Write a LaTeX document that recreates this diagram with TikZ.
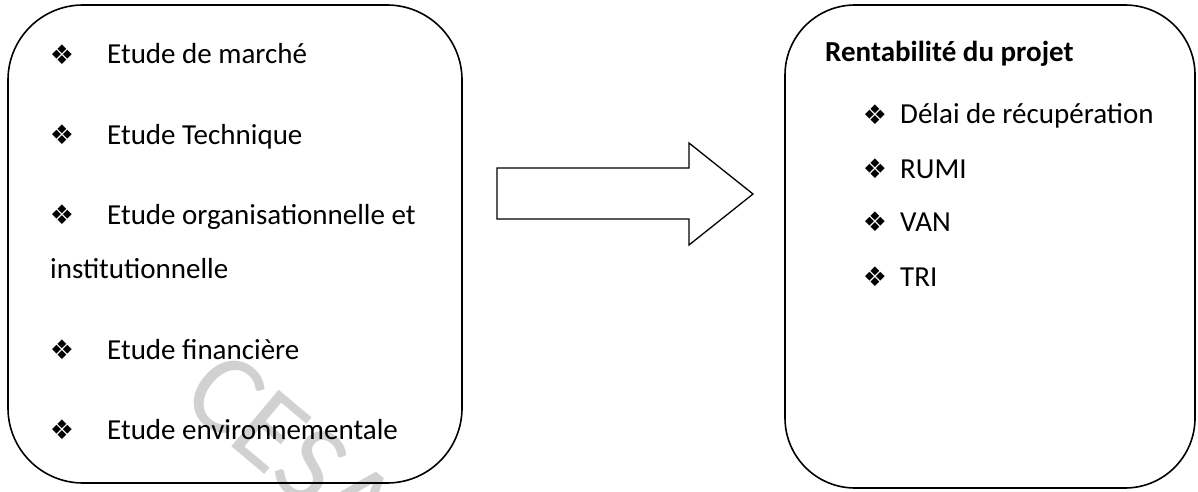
\documentclass[tikz,border=0pt]{standalone}
\usepackage{fontspec}
\setmainfont{Carlito}
\newfontfamily\symfont{DejaVu Sans}
\begin{document}
\begin{tikzpicture}[x=1pt,y=-1pt,
  boxstyle/.style={draw=black,line width=1.6pt},
  item/.style={anchor=base west,inner sep=0pt,font=\fontsize{29}{34}\selectfont},
  bul/.style={anchor=center,inner sep=0pt,font=\symfont\fontsize{27}{30}\selectfont},
  arrowshape/.style={draw=black,line width=1.3pt,fill=white,line join=miter}]
\useasboundingbox (0,0) rectangle (1198,492);
\clip (0,0) rectangle (1198,492);
% watermark
\node[anchor=base west,inner sep=0pt,rotate=-40,text=black!18,font=\fontsize{115}{120}\selectfont] (wm) at (178,402) {CESAG};
% left box
\draw[boxstyle,rounded corners=75pt] (8,5) rectangle (462,483);
\node[bul] (b1) at (62,55) {❖};
\node[item] (t1) at (107,64) {Etude de marché};
\node[bul] (b2) at (62,135) {❖};
\node[item] (t2) at (107,144) {Etude Technique};
\node[bul] (b3) at (62,215) {❖};
\node[item] (t3) at (107,224) {Etude organisationnelle et};
\node[item] (t3b) at (50,278) {institutionnelle};
\node[bul] (b4) at (62,350) {❖};
\node[item] (t4) at (107,359) {Etude financière};
\node[bul] (b5) at (62,430) {❖};
\node[item] (t5) at (107,439) {Etude environnementale};
% arrow
\coordinate (a1) at (497,168);
\draw[arrowshape] (a1) -- (689,168) -- (689,143) -- (753,194) -- (689,245) -- (689,219) -- (497,219) -- cycle;
% right box
\draw[boxstyle,rounded corners=70pt] (785,5) rectangle (1195,488);
\node[item,font=\bfseries\fontsize{29}{34}\selectfont] (h) at (825,62) {Rentabilité du projet};
\node[bul] (r1b) at (875,115) {❖};
\node[item] (r1) at (900,124) {Délai de récupération};
\node[bul] (r2b) at (875,169) {❖};
\node[item] (r2) at (900,178) {RUMI};
\node[bul] (r3b) at (875,222) {❖};
\node[item] (r3) at (900,231) {VAN};
\node[bul] (r4b) at (875,277) {❖};
\node[item] (r4) at (900,286) {TRI};
\end{tikzpicture}
\end{document}
